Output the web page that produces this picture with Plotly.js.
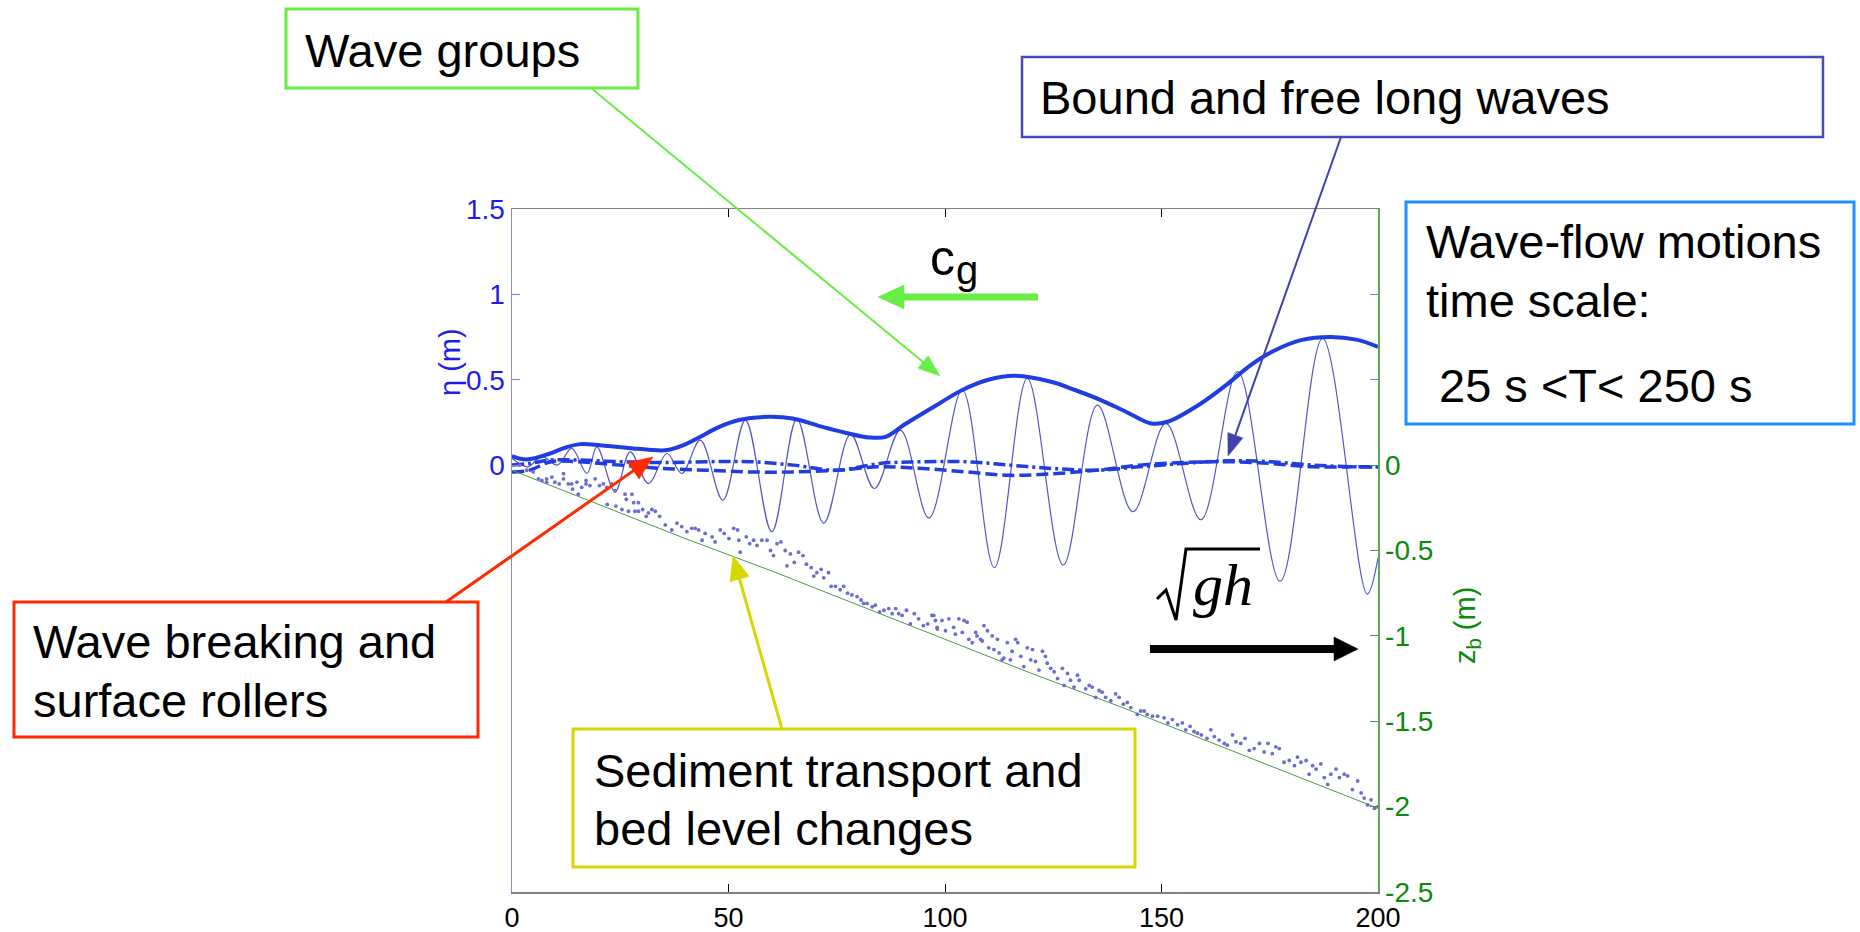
<!DOCTYPE html>
<html><head><meta charset="utf-8">
<script src="https://cdn.plot.ly/plotly-3.0.1.min.js"></script>
<style>html,body{margin:0;padding:0;background:#fff;overflow:hidden}#chart{width:1860px;height:932px}</style>
</head><body><div id="chart"></div>
<script>
// ---------------- data ----------------
// cross-shore distance ticks
const xTicks = [0, 50, 100, 150, 200];
const etaTicks = [0, 0.5, 1, 1.5];
const etaTickText = ['0', '0.5', '1', '1.5'];
const zbTicks = [0, -0.5, -1, -1.5, -2, -2.5];
const zbTickText = ['0', '-0.5', '-1', '-1.5', '-2', '-2.5'];

// instantaneous surface elevation (thin line): crests and troughs
const etaX = [0, 3.5, 7, 10.5, 13.8, 17.3, 19.6, 23.8, 27.3, 31.5, 35.8, 39.2, 43.5, 48.7, 53.9, 60.0, 65.8, 72.0, 78.2, 83.7,
              89.7, 96.3, 104.0, 111.4, 119.0, 127.3, 135.2, 143.4, 151.0, 159.1, 167.6, 177.4, 187.2, 197.5, 200];
const etaY = [0.04, -0.01, 0.05, 0.0, 0.098, -0.049, 0.107, -0.156, 0.078, -0.107, 0.068, -0.049, 0.146, -0.205, 0.264, -0.39, 0.27, -0.34, 0.18, -0.137,
              0.205, -0.31, 0.44, -0.60, 0.508, -0.585, 0.351, -0.273, 0.244, -0.32, 0.547, -0.68, 0.742, -0.755, -0.545];

// wave group envelope (thick line)
const envX = [0, 3.4, 8.8, 12, 15.7, 20.3, 24, 28, 31.5, 35.8, 39.6, 43.5, 47.5, 52.4, 59.4, 64.8, 71.7, 77, 82.5, 86.3,
              90.9, 98.6, 104, 110, 116, 124.5, 130, 136, 142, 147.6, 151.4, 159.1, 165, 170.6, 176, 182.2, 189.1, 195, 200];
const envY = [0.053, 0.033, 0.068, 0.1, 0.123, 0.117, 0.108, 0.098, 0.09, 0.088, 0.117, 0.166, 0.22, 0.264, 0.283, 0.273, 0.224, 0.19, 0.162, 0.166,
              0.242, 0.36, 0.44, 0.50, 0.523, 0.488, 0.44, 0.381, 0.31, 0.244, 0.254, 0.361, 0.47, 0.586, 0.67, 0.732, 0.751, 0.735, 0.693];

// long waves (dashed and dash-dot)
const lwX = [0, 4, 9, 15, 25, 35, 45, 55, 65, 75, 85, 95, 105, 115, 125, 135, 145, 155, 165, 175, 185, 195, 200];
const boundY = [-0.04, -0.03, 0.02, 0.02, 0.0, -0.02, -0.03, -0.04, -0.04, -0.03, -0.01, -0.02, -0.04, -0.06, -0.05, -0.03, 0.0, 0.015, 0.02, 0.01, -0.01, -0.01, -0.01];
const freeY = [0.0, 0.01, 0.03, 0.03, 0.02, 0.015, 0.02, 0.02, 0.0, -0.03, 0.01, 0.02, 0.02, 0.0, -0.02, -0.03, -0.01, 0.01, 0.025, 0.02, 0.0, -0.01, -0.01];

// bed level
const bedX = [0, 20, 40, 60, 80, 100, 120, 140, 160, 180, 200];
const bedZ = [-0.03, -0.23, -0.43, -0.62, -0.82, -1.02, -1.22, -1.41, -1.61, -1.81, -2.01];

// suspended sediment markers
const sedX = [1.8,3.4,4.9,6.1,6.9,8.0,8.0,9.2,9.9,10.9,11.9,11.9,13.0,13.8,14.0,15.0,15.3,16.1,17.1,17.1,
  18.0,19.2,20.2,21.1,21.9,23.0,23.8,26.1,26.4,27.7,28.1,29.2,29.2,22.0,24.0,25.4,26.9,28.4,30.2,31.0,
  31.5,32.3,33.1,34.1,35.4,36.9,38.1,39.2,40.4,41.5,42.3,43.1,43.9,44.6,46.2,46.9,48.1,49.0,50.1,51.2,
  52.1,52.4,52.7,54.1,54.9,55.8,56.6,57.7,58.9,59.7,60.4,61.2,62.1,63.1,63.5,64.3,65.2,66.2,67.2,68.0,
  69.1,69.7,70.4,71.4,72.0,73.1,73.7,74.7,75.8,76.6,77.5,78.5,79.7,80.6,81.2,82.0,83.2,83.9,84.9,85.9,
  87.0,87.8,88.6,89.3,90.1,91.1,92.0,92.9,93.9,95.0,96.0,97.0,97.8,98.2,
  97.4,98.2,99.3,100.1,100.9,102.0,102.4,103.2,104.0,104.4,105.1,105.5,106.3,107.1,107.4,108.2,108.6,109.0,109.8,110.1,
  110.9,111.3,112.1,112.5,113.2,113.6,114.4,115.1,115.5,116.3,116.8,117.5,118.2,119.0,119.8,120.2,120.9,121.7,122.5,123.2,
  123.6,124.4,125.2,126.0,127.1,127.5,128.3,129.0,129.8,130.6,131.0,132.5,133.3,134.0,134.8,135.6,136.3,137.1,138.3,139.4,
  140.2,141.2,142.1,142.9,144.4,145.2,146.0,146.7,147.9,149.1,150.6,151.5,152.5,153.7,154.8,155.6,156.6,157.5,158.3,159.2,
  160.5,161.4,162.2,163.3,164.5,165.2,166.4,167.2,168.3,169.3,170.3,171.4,172.6,173.7,174.6,175.6,176.4,177.2,178.3,179.5,
  180.7,181.4,182.2,183.4,184.1,184.9,185.7,186.8,187.6,188.4,189.1,190.3,191.1,192.2,193.0,194.1,195.3,196.1,196.8,197.6,
  198.4,199.2,200.0];
const sedY = [0.00,-0.03,-0.04,-0.08,-0.09,-0.08,-0.10,-0.07,-0.10,-0.11,-0.05,-0.08,-0.11,-0.11,-0.14,-0.10,-0.17,-0.13,-0.09,-0.11,
  -0.12,-0.08,-0.12,-0.11,-0.13,-0.11,-0.15,-0.17,-0.20,-0.17,-0.22,-0.22,-0.27,-0.23,-0.24,-0.26,-0.27,-0.27,-0.26,-0.30,
  -0.28,-0.26,-0.27,-0.30,-0.35,-0.38,-0.34,-0.36,-0.39,-0.37,-0.37,-0.38,-0.44,-0.40,-0.42,-0.45,-0.38,-0.40,-0.43,-0.37,
  -0.38,-0.44,-0.51,-0.42,-0.46,-0.44,-0.47,-0.44,-0.44,-0.50,-0.53,-0.46,-0.45,-0.50,-0.59,-0.52,-0.57,-0.51,-0.53,-0.58,
  -0.60,-0.65,-0.63,-0.61,-0.66,-0.63,-0.71,-0.71,-0.73,-0.71,-0.75,-0.76,-0.77,-0.79,-0.81,-0.81,-0.83,-0.82,-0.86,-0.85,
  -0.84,-0.87,-0.84,-0.87,-0.88,-0.85,-0.93,-0.87,-0.90,-0.94,-0.93,-0.88,-0.91,-0.95,
  -0.88,-0.96,-0.91,-0.97,-0.90,-0.95,-0.99,-0.90,-0.98,-0.91,-0.92,-1.02,-1.04,-0.98,-1.00,-1.02,-1.03,-0.94,-0.97,-1.07,
  -1.00,-1.08,-1.02,-1.10,-1.14,-1.13,-1.04,-1.14,-1.09,-1.02,-1.04,-1.12,-1.18,-1.07,-1.14,-1.08,-1.15,-1.20,-1.09,-1.12,
  -1.16,-1.19,-1.21,-1.25,-1.19,-1.29,-1.22,-1.26,-1.30,-1.23,-1.26,-1.31,-1.29,-1.30,-1.36,-1.32,-1.33,-1.36,-1.38,-1.34,
  -1.36,-1.40,-1.39,-1.42,-1.46,-1.44,-1.44,-1.46,-1.47,-1.47,-1.48,-1.51,-1.49,-1.52,-1.51,-1.55,-1.53,-1.56,-1.57,-1.58,
  -1.60,-1.55,-1.59,-1.61,-1.63,-1.64,-1.58,-1.62,-1.63,-1.60,-1.67,-1.66,-1.63,-1.68,-1.63,-1.69,-1.65,-1.66,-1.74,-1.73,
  -1.76,-1.71,-1.74,-1.73,-1.81,-1.76,-1.78,-1.75,-1.83,-1.87,-1.81,-1.78,-1.83,-1.81,-1.82,-1.90,-1.85,-1.92,-1.95,-1.99,
  -1.96,-2.01,-2.00];

// ---------------- layout helpers ----------------
const FONT = 'Liberation Sans, Arial, sans-serif';
const PL = 512, PR = 1378, PT = 209, PB = 892;
const fx = p => (p - PL) / (PR - PL);
const fy = p => (PB - p) / (PB - PT);

const shapes = [];
const annotations = [];

function box(x0, y0, x1, y1, color, w) {
  shapes.push({type: 'rect', xref: 'paper', yref: 'paper', x0: fx(x0), x1: fx(x1), y0: fy(y1), y1: fy(y0),
    line: {color: color, width: w}, fillcolor: 'rgba(255,255,255,0)', layer: 'above'});
}
function seg(x0, y0, x1, y1, color, w) {
  shapes.push({type: 'line', xref: 'paper', yref: 'paper', x0: fx(x0), y0: fy(y0), x1: fx(x1), y1: fy(y1),
    line: {color: color, width: w}, layer: 'above'});
}
function arrow(x1, y1, x2, y2, color, w, hl, hw) {
  const dx = x2 - x1, dy = y2 - y1, len = Math.hypot(dx, dy), ux = dx / len, uy = dy / len;
  const bx = x2 - ux * hl, by = y2 - uy * hl, nx = -uy, ny = ux;
  seg(x1, y1, bx + ux * 2, by + uy * 2, color, w);
  const pts = [[x2, y2], [bx + nx * hw, by + ny * hw], [bx - nx * hw, by - ny * hw]];
  shapes.push({type: 'path', xref: 'paper', yref: 'paper',
    path: 'M' + pts.map(p => fx(p[0]) + ',' + fy(p[1])).join(' L') + ' Z',
    fillcolor: color, line: {color: color, width: 0.5}, layer: 'above'});
}
function txt(x, yBase, text, size, color, extra) {
  const fam = (extra && extra.family) || FONT;
  const asc = (extra && extra.asc) || 0.3465;
  const a = {xref: 'paper', yref: 'paper', x: fx(x), y: fy(yBase - asc * size),
    xanchor: 'left', yanchor: 'middle', showarrow: false, text: text, borderpad: 0,
    font: {family: fam, size: size, color: color}};
  annotations.push(a);
}

// call-out boxes
box(286, 9, 638, 88, '#66ee44', 3);
txt(304, 66.7, 'Wave groups', 47, '#000');
arrow(591, 88, 940, 376, '#66ee44', 2, 22, 8);

box(1022, 57, 1823, 137, '#4a4ab4', 2.5);
txt(1039, 114, 'Bound and free long waves', 47, '#000');
arrow(1341, 137, 1228, 456, '#4040b0', 2, 22, 8);

box(1406, 202, 1854, 424, '#1e90ff', 3);
txt(1425, 258, 'Wave-flow motions', 47, '#000');
txt(1425, 316.7, 'time scale:', 47, '#000');
txt(1438, 401.7, '25 s &lt;T&lt; 250 s', 47, '#000');

box(14, 602, 478, 737, '#ff2a00', 3);
txt(32, 658, 'Wave breaking and', 47, '#000');
txt(32, 716.7, 'surface rollers', 47, '#000');
arrow(446, 602, 653, 457, '#ff2a00', 3, 24, 10);

box(573, 729, 1135, 867, '#d6d600', 3);
txt(593, 786.7, 'Sediment transport and', 47, '#000');
txt(593, 845, 'bed level changes', 47, '#000');
arrow(782, 729, 733, 556, '#d6d600', 3, 24, 10);

// group velocity arrow
txt(929, 275, 'c', 50, '#000');
txt(955, 284, 'g', 40, '#000');
arrow(1038, 297, 878, 297, '#66ee44', 7, 26, 12);

// shallow water celerity arrow
shapes.push({type: 'path', xref: 'paper', yref: 'paper',
  path: 'M' + [[1157, 599], [1166, 590], [1176, 620], [1186, 549], [1260, 549]].map(p => fx(p[0]) + ',' + fy(p[1])).join(' L'),
  line: {color: '#000', width: 3}, layer: 'above'});
txt(1192, 605, '<i>gh</i>', 60, '#000', {family: 'Liberation Serif, Times New Roman, serif', asc: 0.3375});
arrow(1150, 649, 1358, 649, '#000', 8, 24, 12);

// axis titles
annotations.push({xref: 'paper', yref: 'paper', x: fx(450), y: fy(362), xanchor: 'center', yanchor: 'middle',
  showarrow: false, textangle: -90, text: 'η (m)', font: {family: FONT, size: 29, color: '#1c1cf0'}});
annotations.push({xref: 'paper', yref: 'paper', x: fx(1467), y: fy(626), xanchor: 'center', yanchor: 'middle',
  showarrow: false, textangle: -90, text: 'z<sub>b</sub> (m)', font: {family: FONT, size: 29, color: '#0a8a0a'}});

// ---------------- traces ----------------
const traces = [
  {x: bedX, y: bedZ, yaxis: 'y2', mode: 'lines', line: {color: '#4a9a4a', width: 1}, hoverinfo: 'skip'},
  {x: sedX, y: sedY, yaxis: 'y2', mode: 'markers', marker: {color: '#6c6cd2', size: 3.8}, hoverinfo: 'skip'},
  {x: etaX, y: etaY, mode: 'lines', line: {color: '#5555c8', width: 1.2, shape: 'spline', smoothing: 1}, hoverinfo: 'skip'},
  {x: lwX, y: boundY, mode: 'lines', line: {color: '#1f3de0', width: 3.5, dash: '12px,5px', shape: 'spline'}, hoverinfo: 'skip'},
  {x: lwX, y: freeY, mode: 'lines', line: {color: '#1f3de0', width: 3.5, dash: '12px,4px,3px,4px', shape: 'spline'}, hoverinfo: 'skip'},
  {x: envX, y: envY, mode: 'lines', line: {color: '#1f3de0', width: 4, shape: 'spline'}, hoverinfo: 'skip'}
];

const layout = {
  width: 1860, height: 932, autosize: false, showlegend: false,
  paper_bgcolor: '#fff', plot_bgcolor: '#fff',
  margin: {l: PL, r: 1860 - PR, t: PT, b: 932 - PB, autoexpand: false},
  font: {family: FONT},
  xaxis: {range: [0, 200], tickvals: xTicks, ticks: 'inside', ticklen: 8, tickcolor: '#000', tickwidth: 1,
    showline: true, linecolor: '#808080', linewidth: 1.5, mirror: 'ticks', showgrid: false, zeroline: false,
    tickfont: {family: FONT, size: 27, color: '#000'}, ticklabelstandoff: 1},
  yaxis: {range: [-2.5, 1.5], tickvals: etaTicks, ticktext: etaTickText, ticks: 'inside', ticklen: 8, tickcolor: '#7d7dd6',
    showline: true, linecolor: '#8a8ad8', linewidth: 1.5, mirror: 'ticks', showgrid: false, zeroline: false,
    tickfont: {family: FONT, size: 28, color: '#1c1cf0'}},
  yaxis2: {overlaying: 'y', side: 'right', range: [-2.5, 1.5], tickvals: zbTicks, ticktext: zbTickText,
    ticks: 'inside', ticklen: 8, tickcolor: '#3a9a3a', showline: true, linecolor: '#5aaa5a', linewidth: 1.5,
    showgrid: false, zeroline: false, tickfont: {family: FONT, size: 28, color: '#0a8a0a'}},
  shapes: shapes, annotations: annotations
};

Plotly.newPlot('chart', traces, layout, {staticPlot: true, displayModeBar: false});
</script></body></html>
